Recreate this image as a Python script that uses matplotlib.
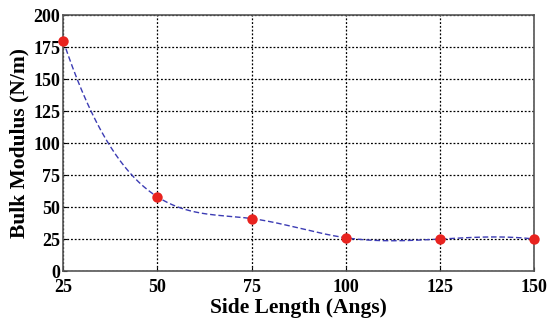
import matplotlib

matplotlib.use("Agg")
import matplotlib.pyplot as plt
import numpy as np

side_length = [25, 50, 75, 100, 125, 150]
bulk_modulus = [180, 58, 41, 26, 25, 25]
x_ticks = [25, 50, 75, 100, 125, 150]
y_ticks = [0, 25, 50, 75, 100, 125, 150, 175, 200]


def spline_not_a_knot(x, y, n=300):
    """Cubic spline through the points with not-a-knot ends (smooth curve for the line)."""
    x = np.asarray(x, float)
    y = np.asarray(y, float)
    k = len(x)
    h = np.diff(x)
    A = np.zeros((k, k))
    b = np.zeros(k)
    for i in range(1, k - 1):
        A[i, i - 1] = h[i - 1]
        A[i, i] = 2 * (h[i - 1] + h[i])
        A[i, i + 1] = h[i]
        b[i] = 6 * ((y[i + 1] - y[i]) / h[i] - (y[i] - y[i - 1]) / h[i - 1])
    A[0, 0], A[0, 1], A[0, 2] = h[1], -(h[0] + h[1]), h[0]
    A[-1, -3], A[-1, -2], A[-1, -1] = h[-1], -(h[-2] + h[-1]), h[-2]
    m = np.linalg.solve(A, b)
    xs = np.linspace(x[0], x[-1], n)
    idx = np.clip(np.searchsorted(x, xs) - 1, 0, k - 2)
    t0 = x[idx + 1] - xs
    t1 = xs - x[idx]
    hi = h[idx]
    ys = (m[idx] * t0**3 / (6 * hi) + m[idx + 1] * t1**3 / (6 * hi)
          + (y[idx] / hi - m[idx] * hi / 6) * t0
          + (y[idx + 1] / hi - m[idx + 1] * hi / 6) * t1)
    return xs, ys


plt.rcParams["font.family"] = ["Liberation Serif", "DejaVu Serif"]
plt.rcParams["font.weight"] = "bold"

fig = plt.figure(figsize=(5.49, 3.2), dpi=100)
ax = fig.add_axes([0.115, 0.153, 0.858, 0.8])

xs, ys = spline_not_a_knot(side_length, bulk_modulus)
ax.plot(xs, ys, linestyle=(0, (4, 2)), color="#3c3cb4", linewidth=1.0, zorder=3)
ax.plot(side_length, bulk_modulus, "o", color="#e8231f", markersize=7.5,
        markeredgewidth=0, zorder=4, clip_on=False)

ax.set_xlim(25, 150)
ax.set_ylim(0, 200)
ax.set_xticks(x_ticks)
ax.set_yticks(y_ticks)
ax.tick_params(direction="in", length=3, labelsize=13)
ax.tick_params(axis="x", pad=6)
ax.tick_params(axis="y", pad=2)
for lbl in ax.get_xticklabels() + ax.get_yticklabels():
    lbl.set_fontweight("bold")
ax.grid(True, color="black", linestyle=(0, (1.5, 1.5)), linewidth=0.9)
for s in ax.spines.values():
    s.set_color("#555555")
    s.set_linewidth(1.2)

ax.set_xlabel("Side Length (Angs)", fontsize=15.5, fontweight="bold", labelpad=1)
ax.set_ylabel("Bulk Modulus (N/m)", fontsize=15.5, fontweight="bold", labelpad=3)

fig.savefig("out.png", dpi=100)
